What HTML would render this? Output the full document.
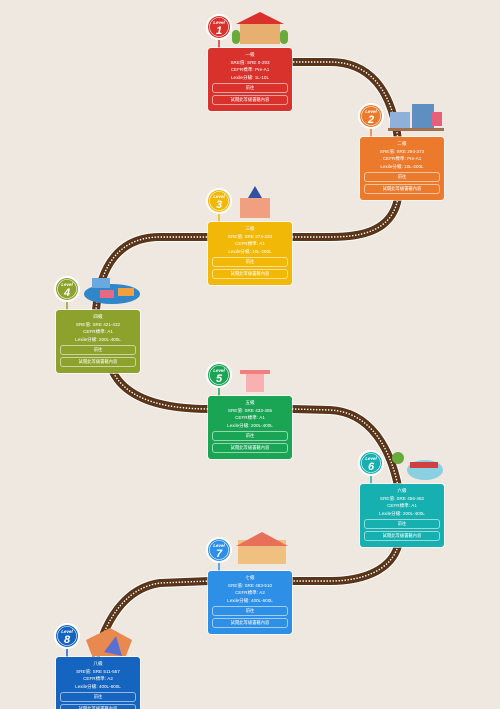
<!DOCTYPE html>
<html><head><meta charset="utf-8"><style>
body{margin:0;width:500px;height:709px;overflow:hidden;background:#efe8e0;position:relative;font-family:"Liberation Sans","Noto Sans CJK TC",sans-serif}
.c{position:absolute;width:84px;height:63px;border-radius:3px;color:#fff;text-align:center;font-size:4.6px;line-height:7.6px;box-shadow:0 0 0 1px rgba(255,255,255,.6)}
.c .t{padding-top:3px}
.b{margin:2px 4px 0;height:8px;line-height:8px;border:0.8px solid rgba(255,255,255,.55);border-radius:3px;font-size:4.3px}
svg{position:absolute;left:0;top:0}
</style></head><body>
<svg width="500" height="709" viewBox="0 0 500 709">
<g fill="none">
<path d="M290,62 L330,62 C368,62 392,88 398,140 M398,198 C392,232 360,237 330,237 L290,237 M210,237 L160,237 C120,237 100,265 96,310 M112,370 C125,398 160,409 210,409 M292,409 L330,410 C370,412 390,448 398,486 M398,546 C390,572 360,581 330,581 L292,581 M210,581 L160,583 C125,588 105,620 95,660" stroke="#fff" stroke-width="10"/>
<path d="M290,62 L330,62 C368,62 392,88 398,140 M398,198 C392,232 360,237 330,237 L290,237 M210,237 L160,237 C120,237 100,265 96,310 M112,370 C125,398 160,409 210,409 M292,409 L330,410 C370,412 390,448 398,486 M398,546 C390,572 360,581 330,581 L292,581 M210,581 L160,583 C125,588 105,620 95,660" stroke="#5a3519" stroke-width="8"/>
<path d="M290,62 L330,62 C368,62 392,88 398,140 M398,198 C392,232 360,237 330,237 L290,237 M210,237 L160,237 C120,237 100,265 96,310 M112,370 C125,398 160,409 210,409 M292,409 L330,410 C370,412 390,448 398,486 M398,546 C390,572 360,581 330,581 L292,581 M210,581 L160,583 C125,588 105,620 95,660" stroke="#fff" stroke-width="1.4" stroke-dasharray="1.4 1.6"/>
</g>
<g font-family="Liberation Sans,sans-serif" font-style="italic" font-weight="bold" text-anchor="middle">
<g transform="translate(219,27)"><line x1="0" y1="12" x2="0" y2="21" stroke="#d9312b" stroke-width="1.5"/><circle r="13" fill="#fff"/><circle r="11" fill="#d9312b"/><circle r="9.5" fill="none" stroke="#fff" stroke-width=".6"/><text y="-3" font-size="4.5" fill="#fff">Level</text><text y="7" font-size="11" fill="#fff">1</text></g>
<g transform="translate(371,116)"><line x1="0" y1="12" x2="0" y2="21" stroke="#ec7a2c" stroke-width="1.5"/><circle r="13" fill="#fff"/><circle r="11" fill="#ec7a2c"/><circle r="9.5" fill="none" stroke="#fff" stroke-width=".6"/><text y="-3" font-size="4.5" fill="#fff">Level</text><text y="7" font-size="11" fill="#fff">2</text></g>
<g transform="translate(219,201)"><line x1="0" y1="12" x2="0" y2="21" stroke="#f2b807" stroke-width="1.5"/><circle r="13" fill="#fff"/><circle r="11" fill="#f2b807"/><circle r="9.5" fill="none" stroke="#fff" stroke-width=".6"/><text y="-3" font-size="4.5" fill="#fff">Level</text><text y="7" font-size="11" fill="#fff">3</text></g>
<g transform="translate(67,289)"><line x1="0" y1="12" x2="0" y2="21" stroke="#8ca22c" stroke-width="1.5"/><circle r="13" fill="#fff"/><circle r="11" fill="#8ca22c"/><circle r="9.5" fill="none" stroke="#fff" stroke-width=".6"/><text y="-3" font-size="4.5" fill="#fff">Level</text><text y="7" font-size="11" fill="#fff">4</text></g>
<g transform="translate(219,375)"><line x1="0" y1="12" x2="0" y2="21" stroke="#1aa555" stroke-width="1.5"/><circle r="13" fill="#fff"/><circle r="11" fill="#1aa555"/><circle r="9.5" fill="none" stroke="#fff" stroke-width=".6"/><text y="-3" font-size="4.5" fill="#fff">Level</text><text y="7" font-size="11" fill="#fff">5</text></g>
<g transform="translate(371,463)"><line x1="0" y1="12" x2="0" y2="21" stroke="#17b0b0" stroke-width="1.5"/><circle r="13" fill="#fff"/><circle r="11" fill="#17b0b0"/><circle r="9.5" fill="none" stroke="#fff" stroke-width=".6"/><text y="-3" font-size="4.5" fill="#fff">Level</text><text y="7" font-size="11" fill="#fff">6</text></g>
<g transform="translate(219,550)"><line x1="0" y1="12" x2="0" y2="21" stroke="#2d8fe6" stroke-width="1.5"/><circle r="13" fill="#fff"/><circle r="11" fill="#2d8fe6"/><circle r="9.5" fill="none" stroke="#fff" stroke-width=".6"/><text y="-3" font-size="4.5" fill="#fff">Level</text><text y="7" font-size="11" fill="#fff">7</text></g>
<g transform="translate(67,636)"><line x1="0" y1="12" x2="0" y2="21" stroke="#1565c0" stroke-width="1.5"/><circle r="13" fill="#fff"/><circle r="11" fill="#1565c0"/><circle r="9.5" fill="none" stroke="#fff" stroke-width=".6"/><text y="-3" font-size="4.5" fill="#fff">Level</text><text y="7" font-size="11" fill="#fff">8</text></g>
</g>
<g>
<rect x="240" y="24" width="40" height="20" fill="#e8b070"/><polygon points="236,24 260,12 284,24" fill="#d9312b"/><rect x="232" y="30" width="8" height="14" rx="4" fill="#6aaa3a"/><rect x="280" y="30" width="8" height="14" rx="4" fill="#6aaa3a"/>
<rect x="390" y="112" width="20" height="16" fill="#8fb0d8"/><rect x="412" y="104" width="22" height="24" fill="#5f8fc0"/><rect x="432" y="112" width="10" height="14" fill="#e6607a"/><rect x="388" y="128" width="56" height="3" fill="#a07050"/>
<rect x="240" y="198" width="30" height="20" fill="#f0a080"/><polygon points="248,198 255,186 262,198" fill="#3050a0"/>
<ellipse cx="112" cy="294" rx="28" ry="10" fill="#2f86c8"/><rect x="92" y="278" width="18" height="10" fill="#6aa8e0"/><rect x="100" y="290" width="14" height="8" fill="#e86a80"/><rect x="118" y="288" width="16" height="8" fill="#f0a040"/>
<rect x="240" y="370" width="30" height="4" fill="#f08080"/><rect x="246" y="374" width="18" height="18" fill="#f8b0b0"/>
<ellipse cx="425" cy="470" rx="18" ry="10" fill="#8ad0e0"/><rect x="410" y="462" width="28" height="6" fill="#d04040"/><circle cx="398" cy="458" r="6" fill="#6aaa3a"/>
<rect x="238" y="540" width="48" height="24" fill="#f0c080"/><polygon points="236,546 262,532 288,546" fill="#e8705a"/>
<path d="M86,640 L110,628 L132,640 L126,656 L92,656Z" fill="#e88a50"/><path d="M104,652 L116,636 L122,656Z" fill="#5a70d0"/>
</g>
</svg>

<div class="c" style="left:208px;top:48px;background:#d9312b"><div class="t">一級</div><div>SRE值: SRE 0-293</div><div>CEFR標準: Pre-A1</div><div>Lexile分級: 1L-10L</div><div class="b">前往</div><div class="b">試閱此等級書籍內容</div></div>
<div class="c" style="left:360px;top:137px;background:#ec7a2c"><div class="t">二級</div><div>SRE值: SRE 294-373</div><div>CEFR標準: Pre-A1</div><div>Lexile分級: 10L-200L</div><div class="b">前往</div><div class="b">試閱此等級書籍內容</div></div>
<div class="c" style="left:208px;top:222px;background:#f2b807"><div class="t">三級</div><div>SRE值: SRE 374-420</div><div>CEFR標準: A1</div><div>Lexile分級: 10L-200L</div><div class="b">前往</div><div class="b">試閱此等級書籍內容</div></div>
<div class="c" style="left:56px;top:310px;background:#8ca22c"><div class="t">四級</div><div>SRE值: SRE 421-432</div><div>CEFR標準: A1</div><div>Lexile分級: 200L-400L</div><div class="b">前往</div><div class="b">試閱此等級書籍內容</div></div>
<div class="c" style="left:208px;top:396px;background:#1aa555"><div class="t">五級</div><div>SRE值: SRE 433-455</div><div>CEFR標準: A1</div><div>Lexile分級: 200L-400L</div><div class="b">前往</div><div class="b">試閱此等級書籍內容</div></div>
<div class="c" style="left:360px;top:484px;background:#17b0b0"><div class="t">六級</div><div>SRE值: SRE 456-482</div><div>CEFR標準: A1</div><div>Lexile分級: 200L-400L</div><div class="b">前往</div><div class="b">試閱此等級書籍內容</div></div>
<div class="c" style="left:208px;top:571px;background:#2d8fe6"><div class="t">七級</div><div>SRE值: SRE 483-510</div><div>CEFR標準: A2</div><div>Lexile分級: 400L-600L</div><div class="b">前往</div><div class="b">試閱此等級書籍內容</div></div>
<div class="c" style="left:56px;top:657px;height:52px;overflow:hidden;border-radius:3px 3px 0 0;background:#1565c0"><div class="t">八級</div><div>SRE值: SRE 511-557</div><div>CEFR標準: A2</div><div>Lexile分級: 400L-600L</div><div class="b">前往</div><div class="b">試閱此等級書籍內容</div></div>
</body></html>
